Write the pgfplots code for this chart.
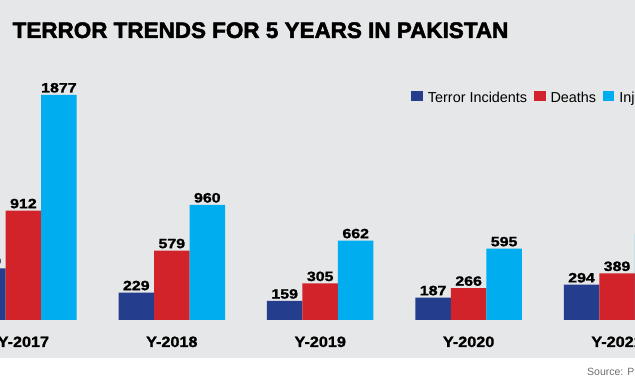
\documentclass[border=0pt]{standalone}
\usepackage{pgfplots}
\pgfplotsset{compat=1.18}
\usepackage{fontspec}
\setmainfont{Liberation Sans}
\newfontfamily\titlefont[FakeBold=2.2]{Liberation Sans Bold}
\newfontfamily\valfont[FakeBold=1.4,FakeStretch=1.18]{Liberation Sans Bold}
\newfontfamily\tickfont[FakeBold=1.2,FakeStretch=1.08]{Liberation Sans Bold}
\definecolor{bgray}{RGB}{230,231,232}
\definecolor{cblue}{RGB}{36,61,140}
\definecolor{cred}{RGB}{210,35,42}
\definecolor{ccyan}{RGB}{0,174,239}
\definecolor{srcgray}{RGB}{110,110,110}
\begin{document}
\begin{tikzpicture}
\path[use as bounding box] (0,0) rectangle (635pt,380pt);
\clip (0,0) rectangle (635pt,380pt);
\fill[white] (0,0) rectangle (635pt,380pt);
\fill[bgray] (0,22pt) rectangle (635pt,380pt);
\node[anchor=base west, inner sep=0pt] at (12.5pt,342pt) {\titlefont\fontsize{22.45}{24}\selectfont TERROR TRENDS FOR 5 YEARS IN PAKISTAN};
\node[anchor=base west, inner sep=0pt, text=srcgray] at (587pt,4pt) {\fontsize{10.5}{12}\selectfont Source: PICSS};
\begin{axis}[
  at={(0pt,60pt)}, anchor=south west,
  scale only axis, width=635pt, height=320pt,
  xmin=-0.1577, xmax=4.121, ymin=0, ymax=2666.7,
  axis line style={draw=none},
  ytick=\empty,
  xtick={0,1,2,3,4},
  xticklabels={Y-2017,Y-2018,Y-2019,Y-2020,Y-2021},
  major tick length=0pt,
  every x tick label/.append style={font=\tickfont\fontsize{15}{16}\selectfont, anchor=base, yshift=-27pt, inner sep=0pt},
  ybar=0pt, bar width=35.5pt,
  nodes near coords={\pgfmathprintnumber[1000 sep={},assume math mode=true]{\pgfplotspointmeta}},
  every node near coord/.append style={font=\valfont\fontsize{13.5}{14}\selectfont, text=black, anchor=south, inner sep=0pt, yshift=2pt},
  legend columns=3,
  legend image code/.code={\path[#1] (0pt,1.5pt) rectangle (11.5pt,11pt);},
  legend style={at={(0.648,0.695)}, anchor=west, draw=none, fill=none, inner sep=0pt, outer sep=0pt,
    font=\fontsize{14.4}{16}\selectfont,
    cells={anchor=base west, inner sep=0pt},
    /tikz/every odd column/.append style={column sep=3pt},
    /tikz/every even column/.append style={column sep=4.8pt}},
]
\addplot[fill=cblue, draw=none] coordinates {(0,430) (1,229) (2,159) (3,187) (4,294)};
\addplot[fill=cred, draw=none] coordinates {(0,912) (1,579) (2,305) (3,266) (4,389)};
\addplot[fill=ccyan, draw=none] coordinates {(0,1877) (1,960) (2,662) (3,595) (4,720)};
\legend{Terror Incidents, Deaths, Injured}
\end{axis}
\end{tikzpicture}
\end{document}
